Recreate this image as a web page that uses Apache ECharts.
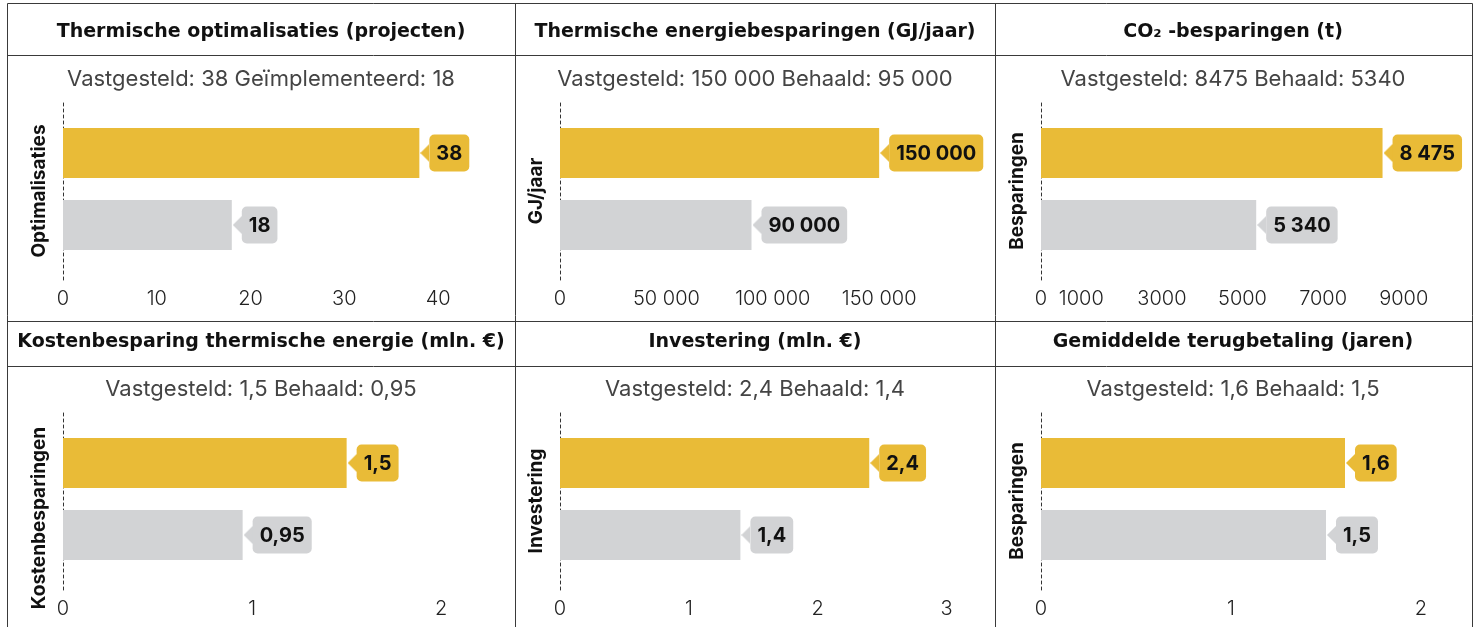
<!DOCTYPE html>
<html>
<head>
<meta charset="utf-8">
<script src="https://cdn.jsdelivr.net/npm/echarts@6/dist/echarts.min.js"></script>
<style>
  html, body { margin: 0; padding: 0; background: #fff; }
  #chart { width: 1478px; height: 627px; }
</style>
</head>
<body>
<div id="chart"></div>
<script>
// data
const titles = [
  "Thermische optimalisaties (projecten)",
  "Thermische energiebesparingen (GJ/jaar)",
  "CO₂ -besparingen (t)",
  "Kostenbesparing thermische energie (mln. €)",
  "Investering (mln. €)",
  "Gemiddelde terugbetaling (jaren)",
];
const subtitles = [
  "Vastgesteld: 38 Geïmplementeerd: 18",
  "Vastgesteld: 150 000 Behaald: 95 000",
  "Vastgesteld: 8475 Behaald: 5340",
  "Vastgesteld: 1,5 Behaald: 0,95",
  "Vastgesteld: 2,4 Behaald: 1,4",
  "Vastgesteld: 1,6 Behaald: 1,5",
];
const axisNames = ["Optimalisaties", "GJ/jaar", "Besparingen", "Kostenbesparingen", "Investering", "Besparingen"];
const categories = ["Vastgesteld", "Behaald"];
const targets = [38, 150000, 8475, 1.5, 2.4, 1.6];
const achieved = [18, 90000, 5340, 0.95, 1.4, 1.5];
const ticks = [
  [0, 10, 20, 30, 40],
  [0, 50000, 100000, 150000],
  [0, 1000, 3000, 5000, 7000, 9000],
  [0, 1, 2],
  [0, 1, 2, 3],
  [0, 1, 2],
];

// layout
const axisMax = [45, 180000, 10000, 2.2, 3.05, 2.1];
const gridWidth = [422, 383, 403, 416, 393, 399];
const namePad = [0, 0, 0, 34, 0, 0];
const colZero = [63, 560, 1041];
const colCenter = [261, 755, 1233];
const rowOffset = [0, 310];
const FONT = "Inter, sans-serif";
const TITLE_FONT = '"DejaVu Sans", sans-serif';
const GOLD = "#E9BB37";
const GREY = "#D2D3D5";
const LINE = "#3a3a3a";

function group(intStr) {
  return intStr.replace(/\B(?=(\d{3})+(?!\d))/g, " ");
}
function valueLabel(v) {
  if (Number.isInteger(v)) return group(String(v));
  return String(v).replace(".", ",");
}
function axisLabel(v) {
  if (Number.isInteger(v)) return v >= 10000 ? group(String(v)) : String(v);
  return String(v).replace(".", ",");
}

// small pointer for the value bubbles
function arrow(color) {
  const c = document.createElement("canvas");
  c.width = 9;
  c.height = 18;
  const g = c.getContext("2d");
  g.fillStyle = color;
  g.beginPath();
  g.moveTo(0, 9);
  g.lineTo(9, 0);
  g.lineTo(9, 18);
  g.closePath();
  g.fill();
  return c;
}

const bubble = (color) => ({
  backgroundColor: color,
  borderRadius: 5,
  padding: [9, 7, 8, 7],
  fontSize: 20,
  fontWeight: "bold",
  fontFamily: FONT,
  color: "#111",
  lineHeight: 21,
  verticalAlign: "middle",
});

const grid = [], xAxis = [], yAxis = [], series = [], graphic = [];

// table
graphic.push({ type: "rect", shape: { x: 7.5, y: 3.5, width: 1465, height: 680 }, style: { fill: null, stroke: LINE, lineWidth: 1 } });
[55.5, 321.5, 366.5].forEach((y) => {
  graphic.push({ type: "line", shape: { x1: 7, y1: y, x2: 1473, y2: y }, style: { stroke: LINE, lineWidth: 1 } });
});
[515.5, 995.5].forEach((x) => {
  graphic.push({ type: "line", shape: { x1: x, y1: 3, x2: x, y2: 700 }, style: { stroke: LINE, lineWidth: 1 } });
});

for (let i = 0; i < 6; i++) {
  const col = i % 3;
  const off = rowOffset[Math.floor(i / 3)];

  graphic.push({
    type: "text",
    style: { text: titles[i], x: colCenter[col], y: 32 + off, align: "center", verticalAlign: "middle", fontSize: 19, fontWeight: "bold", fontFamily: TITLE_FONT, fill: "#111" },
  });
  graphic.push({
    type: "text",
    style: { text: subtitles[i], x: colCenter[col], y: 79 + off, align: "center", verticalAlign: "middle", fontSize: 22, fontFamily: FONT, fill: "#444" },
  });

  // frame grid: dashed axis line, axis name, tick labels
  grid.push({ left: colZero[col], top: 102 + off, width: gridWidth[i], height: 178 });
  // bar grid
  grid.push({ left: colZero[col], top: 117 + off, width: gridWidth[i], height: 144 });

  xAxis.push({
    gridIndex: 2 * i,
    type: "value",
    min: 0,
    max: axisMax[i],
    axisLine: { show: false },
    axisTick: { show: false },
    splitLine: { show: false },
    axisLabel: {
      customValues: ticks[i],
      margin: 9,
      fontSize: 20,
      fontWeight: 300,
      fontFamily: FONT,
      color: "#222",
      formatter: axisLabel,
    },
  });
  yAxis.push({
    gridIndex: 2 * i,
    type: "value",
    min: 0,
    max: 1,
    axisLine: { show: true, lineStyle: { color: "#333", type: [3, 3], width: 1 } },
    axisTick: { show: false },
    axisLabel: { show: false },
    splitLine: { show: false },
    name: axisNames[i],
    nameLocation: "middle",
    nameGap: 14,
    nameTextStyle: { fontSize: 19, fontWeight: "bold", fontFamily: FONT, color: "#111", padding: [0, namePad[i], 0, 0] },
  });

  xAxis.push({ gridIndex: 2 * i + 1, type: "value", min: 0, max: axisMax[i], show: false });
  yAxis.push({ gridIndex: 2 * i + 1, type: "category", data: categories, inverse: true, show: false });

  series.push({
    type: "bar",
    xAxisIndex: 2 * i + 1,
    yAxisIndex: 2 * i + 1,
    barWidth: 50,
    data: [
      { value: targets[i], itemStyle: { color: GOLD } },
      { value: achieved[i], itemStyle: { color: GREY } },
    ],
    label: {
      show: true,
      position: "right",
      distance: 1,
      formatter: (p) => (p.dataIndex === 0 ? "{pg| }{vg|" : "{pb| }{vb|") + valueLabel(p.value) + "}",
      rich: {
        pg: { width: 9, height: 18, backgroundColor: { image: arrow(GOLD) }, verticalAlign: "middle" },
        pb: { width: 9, height: 18, backgroundColor: { image: arrow(GREY) }, verticalAlign: "middle" },
        vg: bubble(GOLD),
        vb: bubble(GREY),
      },
    },
  });
}

const myChart = echarts.init(document.getElementById("chart"));
myChart.setOption({
  animation: false,
  backgroundColor: "#fff",
  graphic: graphic,
  grid: grid,
  xAxis: xAxis,
  yAxis: yAxis,
  series: series,
});
</script>
</body>
</html>
